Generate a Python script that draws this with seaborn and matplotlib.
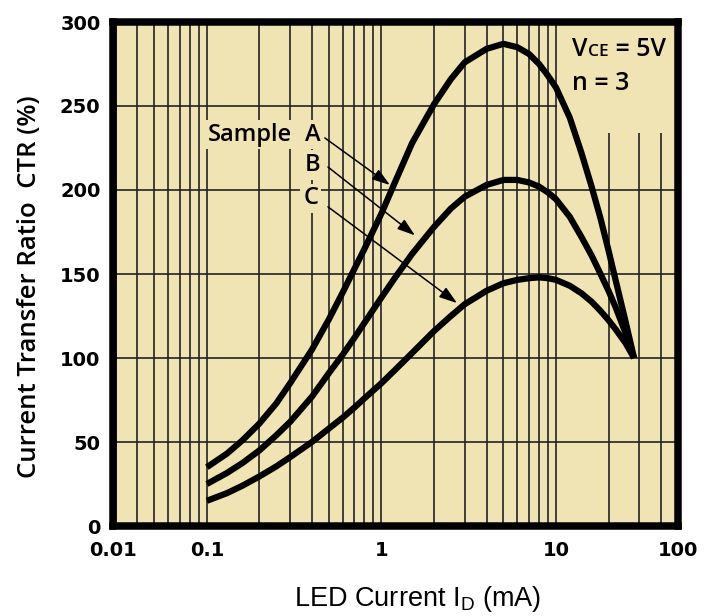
import numpy as np
import pandas as pd
import matplotlib
matplotlib.use("Agg")
import matplotlib.pyplot as plt
import matplotlib.ticker as mticker
from matplotlib.patches import Rectangle
import seaborn as sns

# LED current (mA) and CTR (%)
current_ma = [0.1, 0.13, 0.16, 0.2, 0.25, 0.3, 0.4, 0.5, 0.6, 0.7, 0.8, 1.0, 1.2, 1.5,
              2.0, 2.5, 3.0, 4.0, 5.0, 6.0, 7.0, 8.0, 9.0, 10, 12, 14, 16, 18, 20,
              22, 25, 28]
ctr_a = [35, 43, 51, 61, 73, 85, 105, 123, 139, 153, 165, 186, 205, 228,
         251, 266, 276, 284, 287, 285, 281, 275, 268, 261, 243, 222, 202, 183, 164,
         146, 122, 100]
ctr_b = [25, 31.5, 37.5, 45, 54, 62, 77, 91, 102, 112, 121, 136, 148, 162,
         178, 189, 196, 203, 206, 206, 204.5, 202, 198.5, 194.5, 184, 172, 161, 150, 140,
         130, 115, 100]
ctr_c = [15, 19.5, 24, 29.5, 35.5, 41, 50, 58, 64.5, 70.5, 76, 85, 93, 103,
         116, 125, 132, 140, 144.5, 146.5, 147.5, 148, 147.5, 146.5, 143, 138.5, 133.5, 128, 122.5,
         117, 109, 100]
samples = ["A", "B", "C"]

y_ticks = [0, 50, 100, 150, 200, 250, 300]
x_tick_labels = ["0.01", "0.1", "1", "10", "100"]

BG = "#F0E4B5"
XMIN, XMAX = 0.029, 50

df = pd.DataFrame({
    "current": current_ma * 3,
    "ctr": ctr_a + ctr_b + ctr_c,
    "sample": [s for s in samples for _ in current_ma],
})

sns.set_theme(style="white")
plt.rcParams["font.family"] = ["DejaVu Sans"]
plt.rcParams["mathtext.fontset"] = "custom"
plt.rcParams["mathtext.rm"] = "Liberation Sans"

fig = plt.figure(figsize=(7.07, 6.16), dpi=100)
ax = fig.add_axes([113 / 707, 90 / 616, 565 / 707, 504 / 616])
ax.set_facecolor(BG)

sns.lineplot(data=df, x="current", y="ctr", hue="sample",
             palette={"A": "black", "B": "black", "C": "black"},
             linewidth=4.5, legend=False, sort=False, estimator=None, ax=ax,
             solid_capstyle="butt", solid_joinstyle="round", zorder=3)

ax.set_xscale("log")
ax.set_xlim(XMIN, XMAX)
ax.set_ylim(0, 300)
ax.xaxis.set_major_locator(mticker.FixedLocator([XMIN, 0.1, 1, 10, XMAX]))
ax.xaxis.set_major_formatter(mticker.FixedFormatter(x_tick_labels))
ax.xaxis.set_minor_locator(mticker.LogLocator(base=10, subs=np.arange(2, 10)))
ax.xaxis.set_minor_formatter(mticker.NullFormatter())
ax.set_yticks(y_ticks)

ax.set_axisbelow(True)
ax.grid(True, axis="x", which="both", color="#222222", linewidth=1.2)
ax.grid(True, axis="y", which="major", color="#222222", linewidth=1.2)

ax.tick_params(axis="both", which="both", length=0)
ax.tick_params(axis="y", pad=9)
ax.tick_params(axis="x", pad=11)
for lab in ax.get_xticklabels() + ax.get_yticklabels():
    lab.set_fontsize(14)
    lab.set_fontweight("bold")
    lab.set_color("black")

for sp in ax.spines.values():
    sp.set_visible(True)
    sp.set_color("black")
    sp.set_linewidth(5.4)
    sp.set_zorder(5)

ax.set_xlabel("")
ax.set_ylabel("")

txt = dict(family="Open Sans", fontweight="semibold", color="black")

# blank patch behind the condition label
ax.add_patch(Rectangle((0.786, 0.78), 0.214, 0.22, transform=ax.transAxes,
                       facecolor=BG, edgecolor="none", zorder=1.5))
t_v = ax.text(0.812, 0.945, "V", transform=ax.transAxes, fontsize=18,
              ha="left", va="center", zorder=4, **txt)
t_ce = ax.annotate("CE", xy=(1, 0), xycoords=(t_v, t_v), xytext=(0.5, 1.5),
                   textcoords="offset points", fontsize=12.5, ha="left",
                   va="bottom", zorder=4, **txt)
ax.annotate(" = 5V", xy=(1, 0), xycoords=(t_ce, t_v), fontsize=18,
            ha="left", va="bottom", zorder=4, **txt)
ax.text(0.812, 0.877, "n = 3", transform=ax.transAxes, fontsize=18,
        ha="left", va="center", zorder=4, **txt)

box = dict(boxstyle="square,pad=0.12", facecolor=BG, edgecolor="none")
ax.text(0.307, 233, "Sample", fontsize=17, ha="right", va="center",
        bbox=box, zorder=4, **txt)

# sample letters and arrows pointing at each curve
label_pos = {"A": (0.405, 233), "B": (0.405, 215), "C": (0.394, 195)}
arrow_from = {"A": (0.474, 231), "B": (0.494, 213.7), "C": (0.494, 190)}
arrow_to = {"A": (1.118, 203), "B": (1.556, 173), "C": (2.71, 132.7)}
for s in samples:
    ax.text(*label_pos[s], s, fontsize=17, ha="center", va="center",
            bbox=box, zorder=4, **txt)
    ax.annotate("", xy=arrow_to[s], xytext=arrow_from[s],
                arrowprops=dict(arrowstyle="-|>,head_length=0.9,head_width=0.3",
                                color="black", lw=1.1, shrinkA=0, shrinkB=0),
                zorder=4)

fig.text(30 / 707, 1 - 287 / 616, "Current Transfer Ratio  CTR (%)",
         rotation=90, fontsize=18.5, ha="center", va="center", **txt)
fig.text(418 / 707, 10 / 616, r"LED Current I$\mathrm{_D}$ (mA)",
         family="Liberation Sans", fontsize=19.5, ha="center", va="baseline",
         color="black")

fig.savefig("out.png", dpi=100, facecolor="white")
